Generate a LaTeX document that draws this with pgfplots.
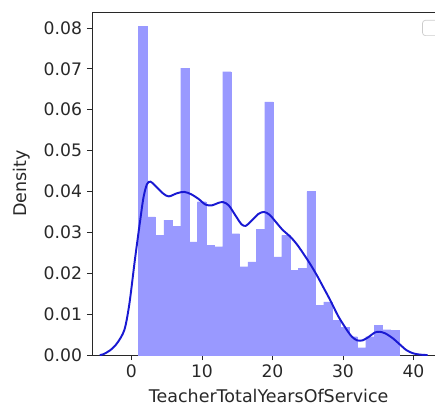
\documentclass[border=0pt]{standalone}
\usepackage{pgfplots}
\pgfplotsset{compat=1.18}
\usepackage{fontspec}
\setmainfont{DejaVu Sans}
\definecolor{histblue}{RGB}{153,153,255}
\definecolor{kdeblue}{RGB}{25,25,210}
\definecolor{txt}{RGB}{40,40,40}
\begin{document}
\begin{tikzpicture}
\begin{axis}[
  name=ax,
  at={(0,0)}, anchor=south west,
  scale only axis,
  width=254.3pt, height=247pt,
  xmin=-5.6, xmax=44.5,
  ymin=0, ymax=0.0839,
  xtick={0,10,20,30,40},
  ytick={0,0.01,0.02,0.03,0.04,0.05,0.06,0.07,0.08},
  yticklabel style={/pgf/number format/fixed,/pgf/number format/fixed zerofill,/pgf/number format/precision=2},
  /pgf/number format/assume math mode=true,
  scaled y ticks=false,
  tick align=outside,
  xtick pos=bottom, ytick pos=left,
  major tick length=3.6pt,
  tick style={txt, line width=0.6pt},
  axis line style={txt, line width=0.6pt},
  ticklabel style={font=\fontsize{12.4}{14}\selectfont, text=txt},
  xlabel={TeacherTotalYearsOfService},
  ylabel={Density},
  label style={font=\fontsize{12.6}{14}\selectfont, text=txt},
  xlabel style={yshift=-1pt},
  ylabel style={yshift=3pt},
  clip=true,
]
\addplot[ybar interval, fill=histblue, draw=histblue, line width=0.1pt] coordinates {
(1.0000,0.0804) (2.1935,0.0338) (3.3871,0.0293) (4.5806,0.0330) (5.7742,0.0315)
(6.9677,0.0702) (8.1613,0.0277) (9.3548,0.0375) (10.5484,0.0269) (11.7419,0.0265)
(12.9355,0.0693) (14.1290,0.0297) (15.3226,0.0216) (16.5161,0.0228) (17.7097,0.0307)
(18.9032,0.0619) (20.0968,0.0240) (21.2903,0.0293) (22.4839,0.0208) (23.6774,0.0212)
(24.8710,0.0400) (26.0645,0.0122) (27.2581,0.0130) (28.4516,0.0085) (29.6452,0.0068)
(30.8387,0.0045) (32.0323,0.0018) (33.2258,0.0045) (34.4194,0.0073) (35.6129,0.0062)
(36.8065,0.0060) (38.0000,0.0060)
};
\addplot[kdeblue, line width=1.4pt, smooth] coordinates {
(-4.5,0) (-4,0.0002) (-3,0.0012) (-2,0.0030) (-1,0.0062) (-0.3,0.0125)
(0.5,0.0235) (1.2,0.0325) (1.7,0.0385) (2.2,0.0418) (2.7,0.0424) (3.5,0.0412)
(4.5,0.0395) (5.3,0.0388) (6.5,0.0396) (7.5,0.0399) (8.5,0.0393) (9.5,0.0382)
(10.5,0.0368) (11.4,0.0366) (12.3,0.0372) (13.0,0.0374) (13.8,0.0366) (14.8,0.0340)
(15.6,0.0320) (16.2,0.0316) (17.0,0.0328) (18.0,0.0345) (18.8,0.0350) (19.6,0.0343)
(20.5,0.0325) (21.5,0.0305) (22.5,0.0290) (23.5,0.0270) (24.5,0.0245) (25.3,0.0224)
(26.3,0.0195) (27.3,0.0163) (28.2,0.0134) (29.3,0.0096) (30.3,0.0068) (31.2,0.0046)
(32.0,0.0036) (32.8,0.0036) (33.7,0.0045) (34.5,0.0055) (35.2,0.0057) (36.0,0.0053)
(37.0,0.0042) (38.0,0.0027) (39.0,0.0012) (40.0,0.0004) (41.0,0.0001) (42.0,0)
};
\end{axis}
\draw[black!20, line width=0.5pt, rounded corners=2pt, fill=white] (238pt,241pt) rectangle (251pt,230pt);
\pgfresetboundingbox
\path[use as bounding box] (-66.24pt,-39.6pt) rectangle (246.96pt,255.64pt);
\end{tikzpicture}
\end{document}
